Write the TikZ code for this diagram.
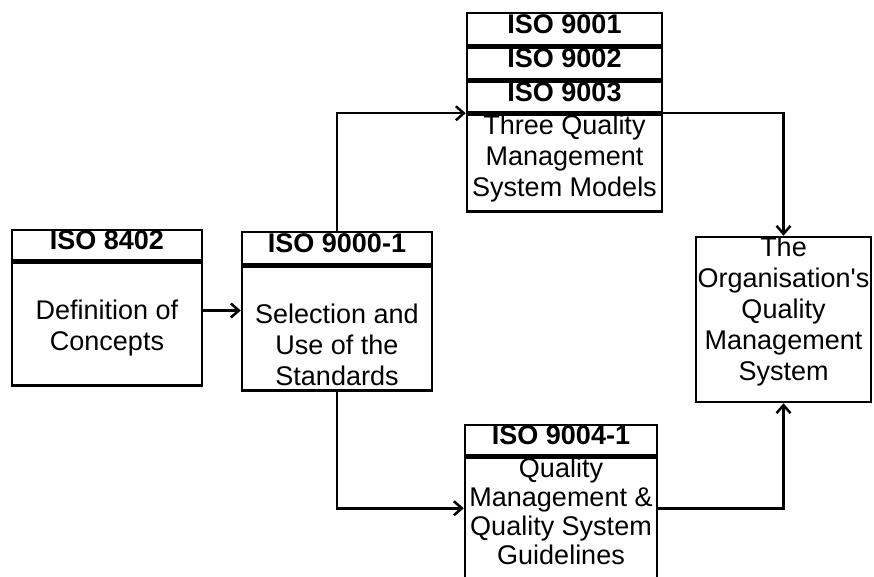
\documentclass[tikz,border=0pt]{standalone}
\usepackage{fontspec}
\setmainfont{Liberation Sans}
\usepackage{tikz}
\usetikzlibrary{arrows.meta,positioning}
\tikzset{
  every node/.style={font=\fontsize{27}{31}\selectfont},
  stdhead/.style={draw,line width=2.5pt,inner sep=0pt,minimum height=31pt,
    text depth=10pt,font=\fontsize{27}{31}\selectfont\bfseries},
  stdbody/.style={draw,line width=2.5pt,inner sep=0pt},
  bodytext/.style={align=center,inner sep=0pt}
}
\tikzstyle{arrow} = [line width=2.5pt,-{Straight Barb[length=8pt,width=14pt]}]

\begin{document}
\begin{tikzpicture}[x=1pt,y=-1pt]
  \clip (0,0) rectangle (874,577);
  % Vocabulary and guide
  \node[stdhead,minimum width=190pt,minimum height=30pt] (h8402) at (107,245) {ISO 8402};
  \node[stdbody,minimum width=190pt,minimum height=123pt,below=0pt of h8402] (b8402) {};
  \node[bodytext,below=38pt of b8402.north] (t8402) {Definition of\\Concepts};
  \node[stdhead,minimum width=190pt,minimum height=32pt] (h9000) at (337,248) {ISO 9000-1};
  \node[stdbody,minimum width=190pt,minimum height=124pt,below=0pt of h9000] (b9000) {};
  \node[bodytext,below=38pt of b9000.north] (t9000) {Selection and\\Use of the\\Standards};
  % The three models
  \node[stdhead,minimum width=195pt,minimum height=32pt] (h9001) at (564.5,29) {ISO 9001};
  \node[stdhead,minimum width=195pt,minimum height=32pt,below=0pt of h9001] (h9002) {ISO 9002};
  \node[stdhead,minimum width=195pt,minimum height=30pt,below=0pt of h9002] (h9003) {ISO 9003};
  \node[stdbody,minimum width=195pt,minimum height=97pt,below=0pt of h9003] (b9003) {};
  \node[bodytext,below=1pt of b9003.north] (t9003) {Three Quality\\Management\\System Models};
  % Guidelines
  \node[stdhead,minimum width=192pt,minimum height=30pt] (h9004) at (561,440) {ISO 9004-1};
  \node[stdbody,minimum width=192pt,minimum height=150pt,below=0pt of h9004] (b9004) {};
  \node[bodytext,below=1pt of b9004.north,font=\fontsize{27}{29}\selectfont] (t9004)
    {Quality\\Management \&\\Quality System\\Guidelines};
  % The organisation
  \node[stdbody,minimum width=175pt,minimum height=165pt] (org) at (783.5,319.5) {};
  \node[bodytext,below=1pt of org.north] (torg)
    {The\\Organisation\textquotesingle s\\Quality\\Management\\System};
  % Connectors
  \draw[arrow] (b8402.east) ++(0,-13.5) coordinate (a1) -- (a1 -| b9000.west);
  \draw[arrow] (h9000.north) |- (b9003.north west);
  \draw[arrow] (b9003.north east) -| (org.north);
  \draw[arrow] (b9000.south) |- ([yshift=-52pt]b9004.north west);
  \draw[arrow] ([yshift=-52pt]b9004.north east) -| (org.south);
\end{tikzpicture}
\end{document}
